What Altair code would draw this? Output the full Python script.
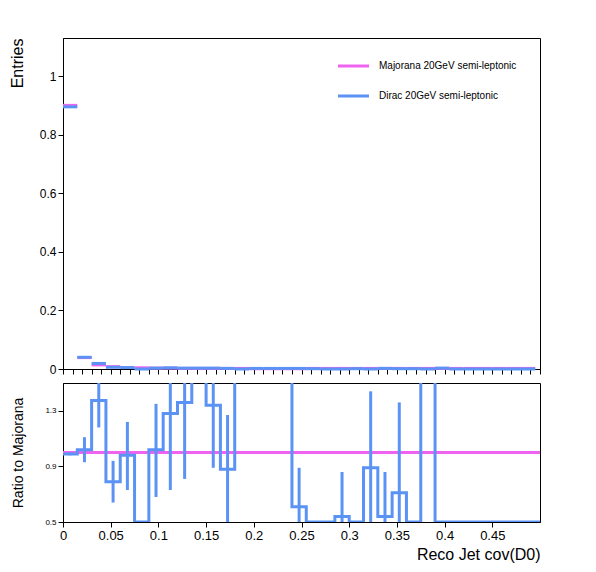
import altair as alt
import pandas as pd

bin_w = 0.015
n_bins = 33
edges = [round(i * bin_w, 4) for i in range(n_bins + 1)]

# top panel entries (normalised)
majorana = [0.900, 0.039, 0.014, 0.008, 0.005, 0.004, 0.003, 0.003, 0.002, 0.002, 0.002,
            0.002, 0.002, 0.001, 0.001, 0.001, 0.001, 0.002, 0.002, 0.002, 0.002, 0.002,
            0.002, 0.002, 0.002, 0.002, 0.002, 0.002, 0.002, 0.002, 0.002, 0.002, 0.002]
dirac = [0.895, 0.040, 0.019, 0.006, 0.005, 0.000, 0.003, 0.004, 0.003, 0.003, 0.003,
         0.002, 0.000, 0.002, 0.002, 0.002, 0.002, 0.001, 0.000, 0.000, 0.001, 0.000,
         0.002, 0.001, 0.001, 0.000, 0.003, 0.000, 0.000, 0.000, 0.000, 0.000, 0.000]

ratio = [0.99, 1.02, 1.375, 0.79, 0.98, 0.5, 1.02, 1.28, 1.36, 1.6, 1.34, 0.88,
         1.6, 1.6, 1.6, 1.6, 0.61, 0.5, 0.5, 0.54, 0.5, 0.89, 0.54, 0.71, 0.5, 1.6,
         0.5, 0.5, 0.5, 0.5, 0.5, 0.5, 0.5]
err_lo = [0.98, 0.93, 1.18, 0.64, 0.73, None, 0.68, 0.73, 0.81, None, 0.89, 0.5,
          None, None, None, None, 0.5, None, None, 0.5, None, 0.5, 0.5, 0.5, None, None,
          None, None, None, None, None, None, None]
err_hi = [1.0, 1.11, 1.5, 0.94, 1.22, None, 1.35, 1.5, 1.5, None, 1.5, 1.27,
          None, None, None, None, 0.89, None, None, 0.86, None, 1.44, 0.86, 1.36, None, None,
          None, None, None, None, None, None, None]

legend_labels = ["Majorana 20GeV semi-leptonic", "Dirac 20GeV semi-leptonic"]
colors = ["#f062f0", "#5b93f5"]

W = 477
font = "Liberation Sans"

rows = []
for name, vals in [(legend_labels[0], majorana), (legend_labels[1], dirac)]:
    for i, v in enumerate(vals):
        rows.append({"s": name, "lo": edges[i], "hi": edges[i + 1], "y": v})
top_df = pd.DataFrame(rows)

x_top = alt.X("lo:Q", scale=alt.Scale(domain=[0, 0.5], nice=False),
              axis=alt.Axis(labels=False, title=None, ticks=True, grid=False,
                            values=[i * 0.01 for i in range(51)]))
color = alt.Color("s:N", scale=alt.Scale(domain=legend_labels, range=colors), legend=None)

top_hist = alt.Chart(top_df).mark_rule(strokeWidth=3).encode(
    x=x_top, x2="hi:Q",
    y=alt.Y("y:Q", scale=alt.Scale(domain=[0, 1.13], nice=False),
            axis=alt.Axis(values=[0, 0.2, 0.4, 0.6, 0.8, 1.0], format="~g", title="Entries",
                          titleAngle=-90, titleAnchor="end", titleFontSize=16,
                          titleFontWeight="normal", titleX=-38, titleY=0,
                          labelFontSize=12, grid=False)),
    color=color)

leg_df = pd.DataFrame({"s": legend_labels, "ypix": [28, 58]})
leg_line = alt.Chart(leg_df).mark_rule(strokeWidth=3).encode(
    x=alt.value(275), x2=alt.value(306), y=alt.Y("ypix:Q", scale=None), color=color)
leg_text = alt.Chart(leg_df).mark_text(align="left", fontSize=10, font=font).encode(
    x=alt.value(316), y=alt.Y("ypix:Q", scale=None), text="s:N")

top = alt.layer(top_hist, leg_line, leg_text).properties(width=W, height=331)

# ratio panel
step_pts = []
for i, v in enumerate(ratio):
    step_pts.append({"x": edges[i], "r": v})
step_pts.append({"x": edges[-1] + 0.01, "r": ratio[-1]})
step_df = pd.DataFrame(step_pts)
err_df = pd.DataFrame({"x": [(edges[i] + edges[i + 1]) / 2 for i in range(n_bins)],
                       "lo": err_lo, "hi": err_hi}).dropna()
one_df = pd.DataFrame({"x": [0, 0.5], "r": [1, 1]})

x_bot = alt.X("x:Q", scale=alt.Scale(domain=[0, 0.5], nice=False),
              axis=alt.Axis(values=[0, 0.05, 0.1, 0.15, 0.2, 0.25, 0.3, 0.35, 0.4, 0.45],
                            format="~g", title="Reco Jet cov(D0)", titleAnchor="end",
                            titleFontSize=16, titleFontWeight="normal", labelFontSize=13,
                            grid=False, labelFlush=False))
y_bot = alt.Y("r:Q", scale=alt.Scale(domain=[0.5, 1.5], nice=False),
              axis=alt.Axis(values=[round(0.5 + 0.1 * i, 1) for i in range(11)],
                            format="~g", labelOverlap=False,
                            title="Ratio to Majorana", titleFontSize=14,
                            titleFontWeight="normal", labelFontSize=8, grid=False,
                            titleX=-38))

one_line = alt.Chart(one_df).mark_line(color=colors[0], strokeWidth=3).encode(x=x_bot, y=y_bot)
steps = alt.Chart(step_df).mark_line(color=colors[1], strokeWidth=3,
                                     interpolate="step-after", clip=True).encode(x=x_bot, y=y_bot)
errs = alt.Chart(err_df).mark_rule(color=colors[1], strokeWidth=3).encode(
    x="x:Q", y=alt.Y("lo:Q"), y2="hi:Q")

bottom = alt.layer(one_line, steps, errs).properties(width=W, height=139)

chart = alt.vconcat(top, bottom, spacing=5).properties(
    padding={"left": 0, "top": 29, "right": 10, "bottom": 5}
).configure_view(stroke="black", strokeWidth=1).configure_axis(
    domainColor="black", tickColor="black", labelFont=font, titleFont=font,
    labelColor="black", titleColor="black"
).configure_concat(spacing=5)

chart.save("out.html", embed_options={"renderer": "svg", "actions": False})
